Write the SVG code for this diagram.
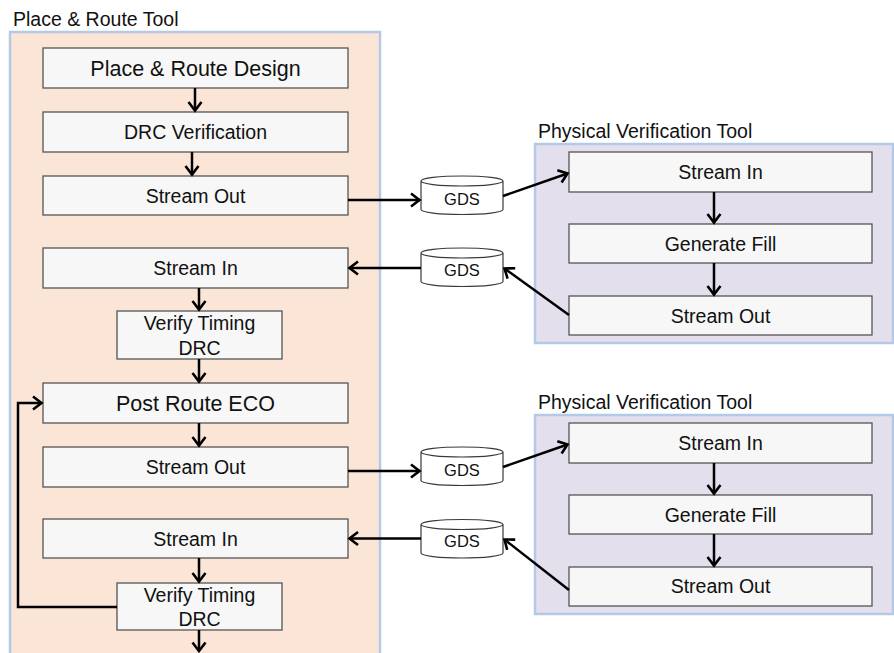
<svg xmlns="http://www.w3.org/2000/svg" width="894" height="653" viewBox="0 0 894 653">
  <defs>
    <style>
      text { font-family: "Liberation Sans", Arial, sans-serif; fill: #111111; }
      .lbl { font-size: 19.5px; text-anchor: middle; }
      .big { font-size: 21.5px; text-anchor: middle; }
      .gds { font-size: 16.5px; text-anchor: middle; }
      .title { font-size: 19.5px; }
      .step { fill: #f7f7f7; stroke: #555555; stroke-width: 1.3; }
      .pr { fill: #fbe5d6; stroke: #b4c9e6; stroke-width: 2.5; }
      .pv { fill: #e4dfec; stroke: #b4c9e6; stroke-width: 2.5; }
      .cyl { fill: #ffffff; stroke: #3a3a3a; stroke-width: 1.2; }
      .wire { fill: none; stroke: #000000; stroke-width: 2.5; marker-end: url(#head); }
    </style>
    <marker id="head" markerUnits="userSpaceOnUse" markerWidth="18" markerHeight="18" viewBox="-12 -9 14 18" refX="0" refY="0" orient="auto">
      <path d="M-8.5,-6.5 L0,0 L-8.5,6.5" fill="none" stroke="#000" stroke-width="2.6" stroke-linejoin="miter"/>
    </marker>
    <path id="cylinder" d="M0,5.5 A41,5 0 0 1 82,5.5 L82,34 A41,5 0 0 1 0,34 Z M0,5.5 A41,5 0 0 0 82,5.5"/>
  </defs>

  <!-- tool containers -->
  <g id="pr-tool">
    <text class="title" x="13" y="25.5">Place &amp; Route Tool</text>
    <rect class="pr" x="10" y="32" width="370" height="640"/>
  </g>
  <g id="pv-tool-1">
    <text class="title" x="538" y="138">Physical Verification Tool</text>
    <rect class="pv" x="535" y="144" width="358" height="199"/>
  </g>
  <g id="pv-tool-2">
    <text class="title" x="538" y="409">Physical Verification Tool</text>
    <rect class="pv" x="535" y="415" width="358" height="199"/>
  </g>

  <!-- place & route flow -->
  <g id="pr-design">
    <rect class="step" x="43" y="48" width="305" height="40"/>
    <text class="big" x="195.5" y="76">Place &amp; Route Design</text>
  </g>
  <g id="pr-drc">
    <rect class="step" x="43" y="112" width="305" height="40"/>
    <text class="lbl" x="195.5" y="139">DRC Verification</text>
  </g>
  <g id="pr-out-1">
    <rect class="step" x="43" y="176" width="305" height="39"/>
    <text class="lbl" x="195.5" y="203">Stream Out</text>
  </g>
  <g id="pr-in-1">
    <rect class="step" x="43" y="248" width="305" height="40"/>
    <text class="lbl" x="195.5" y="275">Stream In</text>
  </g>
  <g id="pr-verify-1">
    <rect class="step" x="117" y="311" width="165" height="48"/>
    <text class="lbl" x="199.5" y="330">Verify Timing</text>
    <text class="lbl" x="199.5" y="355">DRC</text>
  </g>
  <g id="pr-eco">
    <rect class="step" x="43" y="383" width="305" height="40"/>
    <text class="big" x="195.5" y="411">Post Route ECO</text>
  </g>
  <g id="pr-out-2">
    <rect class="step" x="43" y="447" width="305" height="40"/>
    <text class="lbl" x="195.5" y="474">Stream Out</text>
  </g>
  <g id="pr-in-2">
    <rect class="step" x="43" y="519" width="305" height="39"/>
    <text class="lbl" x="195.5" y="546">Stream In</text>
  </g>
  <g id="pr-verify-2">
    <rect class="step" x="117" y="583" width="165" height="47"/>
    <text class="lbl" x="199.5" y="602">Verify Timing</text>
    <text class="lbl" x="199.5" y="626">DRC</text>
  </g>

  <!-- GDS data files -->
  <g id="gds-1">
    <use href="#cylinder" class="cyl" x="421" y="175.5"/>
    <text class="gds" x="462" y="205">GDS</text>
  </g>
  <g id="gds-2">
    <use href="#cylinder" class="cyl" x="421" y="247.5"/>
    <text class="gds" x="462" y="276">GDS</text>
  </g>
  <g id="gds-3">
    <use href="#cylinder" class="cyl" x="421" y="446.5"/>
    <text class="gds" x="462" y="476">GDS</text>
  </g>
  <g id="gds-4">
    <use href="#cylinder" class="cyl" x="421" y="519"/>
    <text class="gds" x="462" y="547">GDS</text>
  </g>

  <!-- physical verification flows -->
  <g id="pv1-in">
    <rect class="step" x="569" y="152" width="303" height="40"/>
    <text class="lbl" x="720.5" y="179">Stream In</text>
  </g>
  <g id="pv1-fill">
    <rect class="step" x="569" y="224" width="303" height="39"/>
    <text class="lbl" x="720.5" y="251">Generate Fill</text>
  </g>
  <g id="pv1-out">
    <rect class="step" x="569" y="296" width="303" height="39"/>
    <text class="lbl" x="720.5" y="323">Stream Out</text>
  </g>
  <g id="pv2-in">
    <rect class="step" x="569" y="423" width="303" height="40"/>
    <text class="lbl" x="720.5" y="450">Stream In</text>
  </g>
  <g id="pv2-fill">
    <rect class="step" x="569" y="495" width="303" height="39"/>
    <text class="lbl" x="720.5" y="522">Generate Fill</text>
  </g>
  <g id="pv2-out">
    <rect class="step" x="569" y="567" width="303" height="39"/>
    <text class="lbl" x="720.5" y="593">Stream Out</text>
  </g>

  <!-- connectors -->
  <g id="connectors">
    <line class="wire" x1="195" y1="88" x2="195" y2="110.5"/>
    <line class="wire" x1="192" y1="152" x2="192" y2="174.5"/>
    <line class="wire" x1="348" y1="200" x2="419.5" y2="200"/>
    <line class="wire" x1="503" y1="196" x2="567.5" y2="173.5"/>
    <line class="wire" x1="714" y1="192" x2="714" y2="222.5"/>
    <line class="wire" x1="714" y1="263" x2="714" y2="294.5"/>
    <line class="wire" x1="569" y1="315" x2="504.5" y2="268.5"/>
    <line class="wire" x1="421" y1="268" x2="349.5" y2="268"/>
    <line class="wire" x1="199" y1="288" x2="199" y2="309.5"/>
    <line class="wire" x1="199" y1="359" x2="199" y2="381.5"/>
    <line class="wire" x1="199" y1="423" x2="199" y2="445.5"/>
    <line class="wire" x1="348" y1="471" x2="419.5" y2="471"/>
    <line class="wire" x1="503" y1="467" x2="567.5" y2="444.5"/>
    <line class="wire" x1="714" y1="463" x2="714" y2="493.5"/>
    <line class="wire" x1="714" y1="534" x2="714" y2="565.5"/>
    <line class="wire" x1="569" y1="590" x2="504.5" y2="539.5"/>
    <line class="wire" x1="421" y1="538.5" x2="349.5" y2="538.5"/>
    <line class="wire" x1="199" y1="558" x2="199" y2="581.5"/>
    <line class="wire" x1="199" y1="630" x2="199" y2="651"/>
    <polyline class="wire" points="117,607 18,607 18,403 41.5,403"/>
  </g>
</svg>
